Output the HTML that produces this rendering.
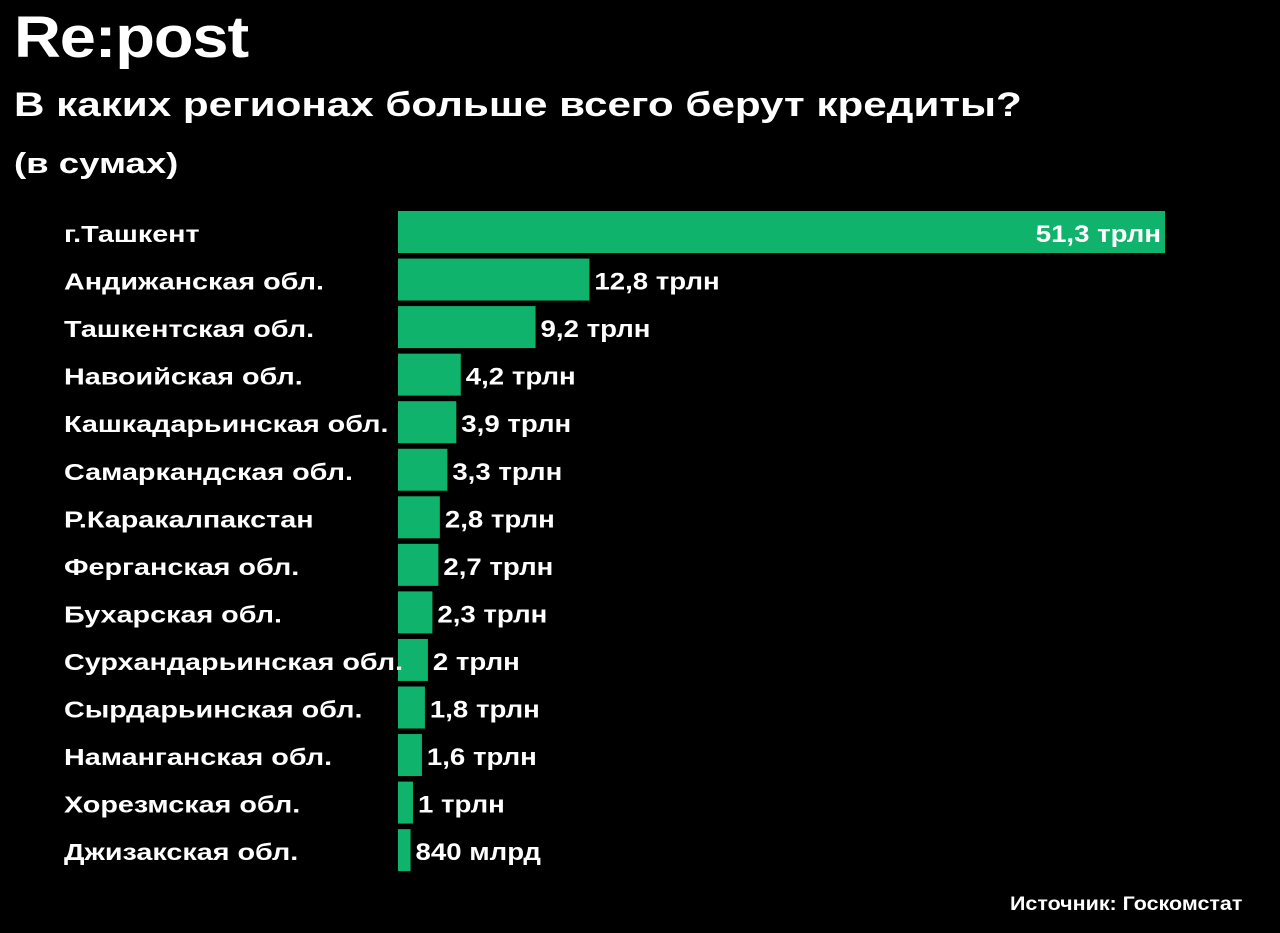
<!DOCTYPE html>
<html><head><meta charset="utf-8"><style>
body{margin:0;background:#000;width:1280px;height:933px;overflow:hidden;font-family:"Liberation Sans","DejaVu Sans",sans-serif;color:#fff}
.t{position:absolute;font-weight:bold;white-space:nowrap;transform-origin:0 0}
</style></head><body>
<div class="t" style="left:14px;top:4px;font-size:58px;letter-spacing:-1px;transform:scaleX(1.12)">Re:post</div>
<div class="t" style="left:14px;top:86px;font-size:34px;transform:scaleX(1.24)">В каких регионах больше всего берут кредиты?</div>
<div class="t" style="left:14px;top:148px;font-size:29px;transform:scaleX(1.26)">(в сумах)</div>
<svg width="1280" height="933" style="position:absolute;left:0;top:0" id="chart"></svg>
<div class="t" style="left:1010px;top:894px;font-size:19px;transform:scaleX(1.13)">Источник: Госкомстат</div>
<script>
const categories=["г.Ташкент","Андижанская обл.","Ташкентская обл.","Навоийская обл.","Кашкадарьинская обл.","Самаркандская обл.","Р.Каракалпакстан","Ферганская обл.","Бухарская обл.","Сурхандарьинская обл.","Сырдарьинская обл.","Наманганская обл.","Хорезмская обл.","Джизакская обл."];
const values=[51.3,12.8,9.2,4.2,3.9,3.3,2.8,2.7,2.3,2,1.8,1.6,1,0.84];
const valueLabels=["51,3 трлн","12,8 трлн","9,2 трлн","4,2 трлн","3,9 трлн","3,3 трлн","2,8 трлн","2,7 трлн","2,3 трлн","2 трлн","1,8 трлн","1,6 трлн","1 трлн","840 млрд"];
const svg=document.getElementById('chart');const NS='http://www.w3.org/2000/svg';
const x0=398,pxPer=767/51.3;
const x=v=>x0+v*pxPer;
const y=i=>211+i*47.55;
const bh=42;
categories.forEach((c,i)=>{
 const r=document.createElementNS(NS,'rect');
 
 
 r.setAttribute('x',x0);r.setAttribute('y',y(i));r.setAttribute('width',x(values[i])-x0);r.setAttribute('height',bh);r.setAttribute('fill','#0fb36b');
 svg.appendChild(r);
 const l=document.createElementNS(NS,'text');
 
 
 l.setAttribute('transform','translate(64,'+(y(i)+bh/2+10)+') scale(1.25,1)');
 l.setAttribute('fill','#fff');l.setAttribute('font-size','23');l.setAttribute('font-weight','bold');
 l.textContent=c;svg.appendChild(l);
 const v=document.createElementNS(NS,'text');
 
 
 const inside=i===0;
 const vx=inside?x(values[i])-4:x(values[i])+5;
 v.setAttribute('transform','translate('+vx+','+(y(i)+bh/2+10)+') scale(1.15,1)');
 v.setAttribute('text-anchor',inside?'end':'start');
 v.setAttribute('fill','#fff');v.setAttribute('font-size','24');v.setAttribute('font-weight','bold');
 v.textContent=valueLabels[i];svg.appendChild(v);
});
</script>
</body></html>
